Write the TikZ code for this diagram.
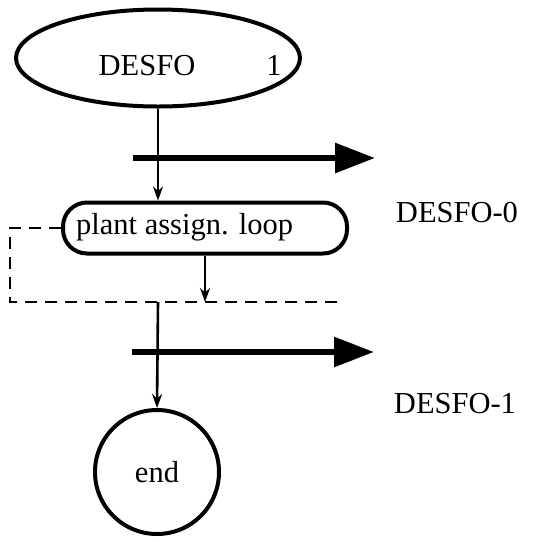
\documentclass[tikz,border=0pt]{standalone}
\usepackage{fontspec}
\setmainfont{Liberation Serif}
\usetikzlibrary{arrows.meta,shapes.geometric}
\begin{document}
\begin{tikzpicture}[x=1pt,y=-1pt,
  lbl/.style={font=\fontsize{30.5}{36}\selectfont, inner sep=0pt},
  thinarrow/.style={line width=2.6pt,-{Stealth[length=14pt,width=10pt]}},
  bigarrow/.style={line width=6pt,-{Triangle[length=40pt,width=29pt]}},
  dashline/.style={line width=2.8pt,dash pattern=on 12pt off 8pt},
  box/.style={draw,line width=4pt}
]
\useasboundingbox (0,0) rectangle (533,542);
\node[box, ellipse, minimum width=284pt, minimum height=97pt] (start) at (158,58) {};
\node[lbl, anchor=base] (desfo) at (147,75) {DESFO};
\node[lbl, anchor=base] (one) at (274,75) {1};
\node[box, rounded corners=24pt, minimum width=284pt, minimum height=51pt, inner sep=0pt] (loop) at (205,228) {};
\node[lbl, anchor=base west] (looptxt) at (76,234) {plant assign. loop};
\node[box, circle, minimum size=124pt, lbl] (end) at (157,472) {end};
\node[lbl, anchor=base] (d0) at (457,222) {DESFO-0};
\node[lbl, anchor=base] (d1) at (455,413) {DESFO-1};
\coordinate (a0s) at (133,158);
\coordinate (a0e) at (375,158);
\coordinate (a1s) at (132,352);
\coordinate (a1e) at (374,352);
\coordinate (dl) at (10,302);
\coordinate (dr) at (340,302);
\coordinate (j) at (158,302);
\draw[thinarrow] (start.south) -- (start.south |- loop.north);
\draw[bigarrow] (a0s) -- (a0e);
\draw[dashline] (loop.west) -| (dl) -- (dr);
\draw[thinarrow] (loop.south) -- (loop.south |- dr);
\draw[thinarrow] (j) -- (end.north);
\draw[bigarrow] (a1s) -- (a1e);
\end{tikzpicture}
\end{document}
